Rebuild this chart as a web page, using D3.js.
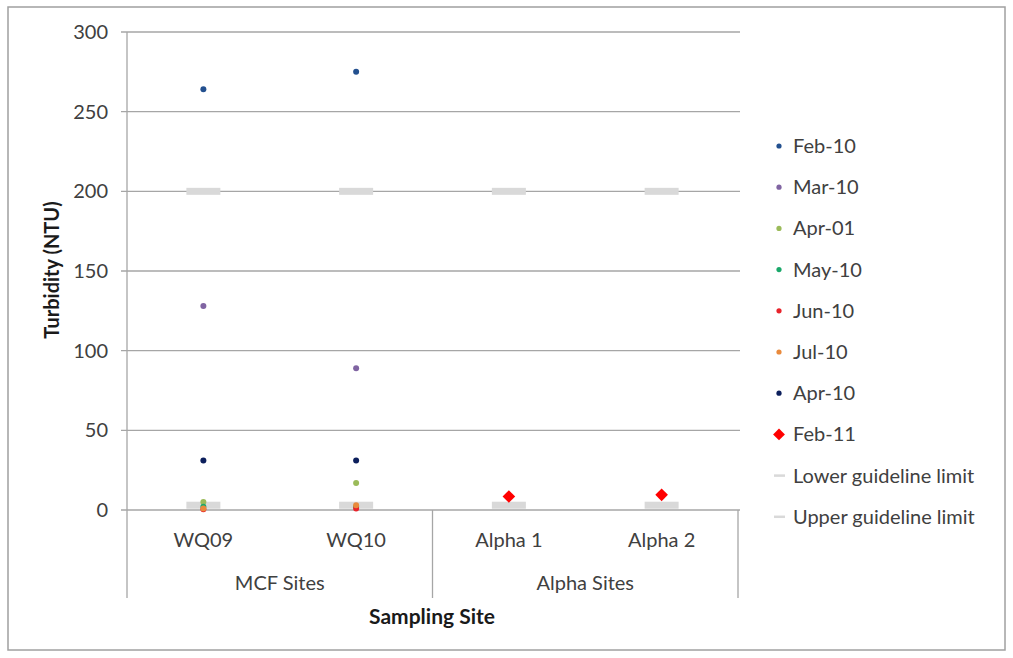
<!doctype html>
<html>
<head>
<style>body{margin:0;background:#fff;}</style>
</head>
<body>
<svg width="1013" height="658" font-family="Lato, sans-serif"></svg>
<script src="https://d3js.org/d3.v7.min.js"></script>
<script>
  // data
  const sites = ["WQ09", "WQ10", "Alpha 1", "Alpha 2"];
  const groups = [{name: "MCF Sites", sites: ["WQ09", "WQ10"]}, {name: "Alpha Sites", sites: ["Alpha 1", "Alpha 2"]}];
  const seriesNames = ["Feb-10", "Mar-10", "Apr-01", "May-10", "Jun-10", "Jul-10", "Apr-10", "Feb-11"];
  const seriesColors = ["#23508f", "#8064a2", "#9bbb59", "#1aa86a", "#e8232b", "#e98a3c", "#0c1f5c", "#ff0000"];
  const seriesValues = [
    [264, 275, null, null],   // Feb-10
    [128, 89, null, null],    // Mar-10
    [5, 17, null, null],      // Apr-01
    [2, 2, null, null],       // May-10
    [0.5, 1, null, null],     // Jun-10
    [1, 3, null, null],       // Jul-10
    [31, 31, null, null],     // Apr-10
    [null, null, 8.5, 9.5]    // Feb-11
  ];
  const lowerLimit = [3, 3, 3, 3];
  const upperLimit = [200, 200, 200, 200];
  const yTicks = [0, 50, 100, 150, 200, 250, 300];

  let svg = d3.select("svg");
  let textColor = "#404040", axisColor = "#a6a6a6";

  svg.append("rect").attr("x", 8).attr("y", 7).attr("width", 997).attr("height", 643)
    .attr("fill", "none").attr("stroke", "#a0a0a0").attr("stroke-width", 1.5);

  let x = d3.scaleBand().domain(sites).range([127, 738]);
  let y = d3.scaleLinear().domain([0, 300]).range([510, 32]);

  // gridlines + y labels
  let grid = svg.append("g");
  grid.selectAll("line").data(yTicks).join("line")
    .attr("x1", 121).attr("x2", 740)
    .attr("y1", d => y(d)).attr("y2", d => y(d))
    .attr("stroke", axisColor).attr("stroke-width", 1.3);
  grid.selectAll("text").data(yTicks).join("text")
    .attr("x", 108).attr("y", d => y(d)).attr("dy", "0.35em")
    .attr("text-anchor", "end").attr("font-size", 20).attr("fill", textColor)
    .text(d => d);

  // y axis line
  svg.append("line").attr("x1", 127).attr("x2", 127).attr("y1", y(300)).attr("y2", 598)
    .attr("stroke", axisColor).attr("stroke-width", 1.3);

  // group dividers
  let dividers = [x("Alpha 1"), x.range()[1]];
  svg.selectAll(".div").data(dividers).join("line").attr("class", "div")
    .attr("x1", d => d).attr("x2", d => d).attr("y1", y(0)).attr("y2", 598)
    .attr("stroke", axisColor).attr("stroke-width", 1.3);

  // site labels
  svg.selectAll(".site").data(sites).join("text").attr("class", "site")
    .attr("x", d => x(d) + x.bandwidth() / 2).attr("y", 547)
    .attr("text-anchor", "middle").attr("font-size", 20).attr("fill", textColor)
    .text(d => d);

  // group labels
  svg.selectAll(".grp").data(groups).join("text").attr("class", "grp")
    .attr("x", d => (x(d.sites[0]) + x(d.sites[d.sites.length - 1]) + x.bandwidth()) / 2)
    .attr("y", 590)
    .attr("text-anchor", "middle").attr("font-size", 20).attr("fill", textColor)
    .text(d => d.name);

  svg.append("text").attr("x", 432).attr("y", 624).attr("text-anchor", "middle")
    .attr("font-size", 21).attr("font-weight", "bold").attr("fill", "#1a1a1a")
    .text("Sampling Site");

  svg.append("text").attr("transform", "translate(59,270) rotate(-90)")
    .attr("text-anchor", "middle").attr("font-size", 20).attr("font-weight", "bold").attr("fill", "#1a1a1a")
    .text("Turbidity (NTU)");

  // guideline limits
  let limW = 34, limH = 7;
  [lowerLimit, upperLimit].forEach(arr => {
    svg.append("g").selectAll("rect").data(arr).join("rect")
      .attr("x", (d, i) => x(sites[i]) + x.bandwidth() / 2 - limW / 2)
      .attr("y", d => y(d) - limH / 2)
      .attr("width", limW).attr("height", limH)
      .attr("fill", "#d9d9d9");
  });

  // points
  seriesNames.forEach((name, s) => {
    let pts = seriesValues[s].map((v, i) => ({v, site: sites[i]})).filter(d => d.v != null);
    let g = svg.append("g");
    if (name === "Feb-11") {
      g.selectAll("path").data(pts).join("path")
        .attr("d", d3.symbol(d3.symbolSquare, 80))
        .attr("transform", d => "translate(" + (x(d.site) + x.bandwidth() / 2) + "," + y(d.v) + ") rotate(45)")
        .attr("fill", seriesColors[s]);
    } else {
      g.selectAll("circle").data(pts).join("circle")
        .attr("cx", d => x(d.site) + x.bandwidth() / 2).attr("cy", d => y(d.v))
        .attr("r", 3).attr("fill", seriesColors[s]);
    }
  });

  // legend
  let legendItems = seriesNames.map((n, i) => ({name: n, color: seriesColors[i], type: n === "Feb-11" ? "diamond" : "dot"}))
    .concat([{name: "Lower guideline limit", color: "#d9d9d9", type: "line"},
             {name: "Upper guideline limit", color: "#d9d9d9", type: "line"}]);
  let leg = svg.append("g").selectAll("g").data(legendItems).join("g")
    .attr("transform", (d, i) => "translate(779," + (146 + i * 41.2) + ")");
  leg.each(function(d) {
    let g = d3.select(this);
    if (d.type === "dot") g.append("circle").attr("r", 2.6).attr("fill", d.color);
    else if (d.type === "diamond") g.append("path").attr("d", d3.symbol(d3.symbolSquare, 70)).attr("transform", "rotate(45)").attr("fill", d.color);
    else g.append("line").attr("x1", -5).attr("x2", 6).attr("stroke", d.color).attr("stroke-width", 2.5);
  });
  leg.append("text").attr("x", 14).attr("dy", "0.35em").attr("font-size", 20).attr("fill", textColor)
    .text(d => d.name);
</script>
</body>
</html>
